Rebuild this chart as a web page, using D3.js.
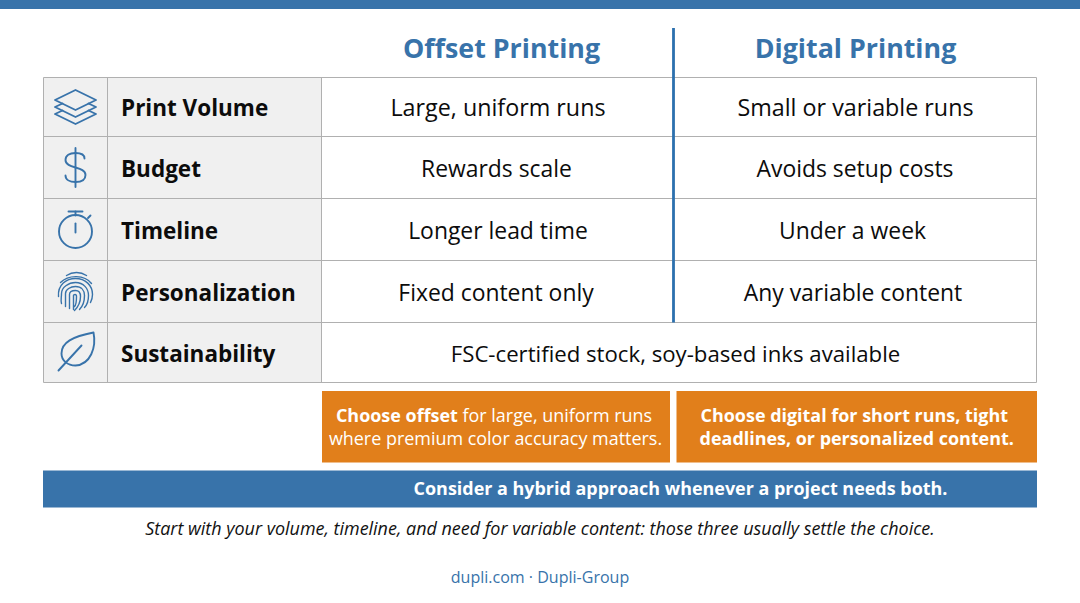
<!DOCTYPE html>
<html>
<head>
<meta charset="utf-8">
<script src="https://cdn.jsdelivr.net/npm/d3@7"></script>
<style>
  html, body { margin: 0; padding: 0; background: #fff; }
  svg { display: block; }
  text { font-family: "Open Sans", sans-serif; }
</style>
</head>
<body>
<svg id="chart" width="1080" height="603"></svg>
<script>
const columns = ["Offset Printing", "Digital Printing"];
const rows = ["Print Volume", "Budget", "Timeline", "Personalization", "Sustainability"];
const icons = ["layers", "dollar", "timer", "print", "leaf"];
const offsetValues = ["Large, uniform runs", "Rewards scale", "Longer lead time", "Fixed content only"];
const digitalValues = ["Small or variable runs", "Avoids setup costs", "Under a week", "Any variable content"];
const sharedValue = "FSC-certified stock, soy-based inks available";
const offsetCallout = [
  [["Choose offset", true], [" for large, uniform runs", false]],
  [["where premium color accuracy matters.", false]],
];
const digitalCallout = [
  [["Choose digital for short runs, tight", true]],
  [["deadlines, or personalized content.", true]],
];
const banner = "Consider a hybrid approach whenever a project needs both.";
const footnote = "Start with your volume, timeline, and need for variable content: those three usually settle the choice.";
const source = "dupli.com · Dupli-Group";

const BLUE = "#3873aa";
const ORANGE = "#e17f1b";
const GRID = "#b0b0b0";

const svg = d3.select("#chart");

// row edges in the picture are not quite even, so map index -> top edge
const rowY = d3.scaleOrdinal().domain(d3.range(rows.length + 1)).range([77.5, 136.5, 198.5, 260.5, 322.5, 382.5]);
const colX = { icon: 43.5, label: 107.5, body: 321.5, split: 673.5, right: 1036.5 };
// centre of each cell's text, read per row
const offsetMid = [498, 496.5, 498, 496];
const digitalMid = [855.5, 855, 852.5, 853];
const cellSize = [23.3, 22.9, 22.9, 22.9];

// top band
svg.append("rect").attr("width", 1080).attr("height", 9).attr("fill", BLUE);

// label column fill
svg.append("rect")
  .attr("x", colX.icon).attr("y", rowY(0))
  .attr("width", colX.body - colX.icon).attr("height", rowY(5) - rowY(0))
  .attr("fill", "#f0f0f0");

// grid
const gridLines = svg.append("g").attr("stroke", GRID).attr("stroke-width", 1);
gridLines.selectAll("line.h").data(d3.range(rows.length + 1)).join("line")
  .attr("class", "h")
  .attr("x1", colX.icon).attr("x2", colX.right)
  .attr("y1", (d) => rowY(d)).attr("y2", (d) => rowY(d));
gridLines.selectAll("line.v").data([colX.icon, colX.label, colX.body, colX.right]).join("line")
  .attr("class", "v")
  .attr("x1", (d) => d).attr("x2", (d) => d)
  .attr("y1", rowY(0)).attr("y2", rowY(5));

// column split
svg.append("line")
  .attr("x1", colX.split).attr("x2", colX.split)
  .attr("y1", 28).attr("y2", rowY(4))
  .attr("stroke", "#2c70ae").attr("stroke-width", 2.8);

// column titles
svg.selectAll("text.col").data(columns).join("text")
  .attr("class", "col")
  .attr("x", (d, i) => (i === 0 ? 501.5 : 855.5))
  .attr("y", 58)
  .attr("text-anchor", "middle")
  .attr("font-size", 26.8).attr("font-weight", 700)
  .attr("fill", BLUE)
  .text((d) => d);

function rowMid(i) {
  return (rowY(i) + rowY(i + 1)) / 2;
}

// row labels
svg.selectAll("text.row").data(rows).join("text")
  .attr("class", "row")
  .attr("x", 121)
  .attr("y", (d, i) => rowMid(i) + 9)
  .attr("font-size", 22.5).attr("font-weight", 700)
  .attr("fill", "#0c0c0c")
  .text((d) => d);

// cells
function cellText(values, mids) {
  svg.append("g").selectAll("text").data(values).join("text")
    .attr("x", (d, i) => mids[i])
    .attr("y", (d, i) => rowMid(i) + 9)
    .attr("text-anchor", "middle")
    .attr("font-size", (d, i) => cellSize[i]).attr("fill", "#0c0c0c")
    .text((d) => d);
}
cellText(offsetValues, offsetMid);
cellText(digitalValues, digitalMid);
svg.append("text")
  .attr("x", 675.5).attr("y", rowMid(4) + 9)
  .attr("text-anchor", "middle")
  .attr("font-size", 22.2).attr("fill", "#0c0c0c")
  .text(sharedValue);

// icons, each drawn around the middle of its cell
const iconPaths = {
  layers: [
    "M0,-17 L20.5,-7 L0,3 L-20.5,-7 Z",
    "M-13,-3.5 L-20.5,0 L0,10 L20.5,0 L13,-3.5",
    "M-13,3.5 L-20.5,7 L0,17 L20.5,7 L13,3.5",
  ],
  dollar: [
    "M0,-19.5 V19.5",
    "M9,-9 C9,-13 5,-14.5 0,-14.5 C-6,-14.5 -10,-12 -10,-7.5 C-10,-3 -5,-1.5 0,0 C5,1.5 10,3 10,7.5 C10,12 6,14.5 0,14.5 C-6,14.5 -10,12 -10,8",
  ],
  timer: [
    "M-7,-19 H7",
    "M0,-19 V-15",
    "M0,-7 V2",
    "M12.5,-12.5 L15,-15",
  ],
  print: [
    "M-9,-16 C-3,-20 5,-20 11,-16",
    "M-15,-9 C-7,-17 9,-17 16,-8",
    "M-17,5 C-18,-7 -9,-13 0,-13 C10,-13 17,-6 17,3 C17,7 16,9 15,11",
    "M-14,12 C-15,9 -14,6 -14,2 C-14,-4 -7,-9 0,-9 C8,-9 13,-3 13,4 C13,9 12,13 9,16",
    "M-10,15 C-10,10 -10,6 -10,2 C-10,-2 -5,-5 0,-5 C6,-5 9,-1 9,4 C9,10 7,15 4,18",
    "M-6,17 C-6,12 -6,7 -6,3 C-6,0 -3,-1 0,-1 C3,-1 5,1 5,5 C5,10 3,15 -1,19",
    "M-2,18 C-2,13 -2,8 -2,4 C-2,3 1,2 1,5 C1,10 0,14 -1,15",
  ],
  leaf: [
    "M18,-20 C21,-5 15,12 0,13 C-8,13 -14,8 -14,1 C-14,-10 -3,-16 18,-20 Z",
    "M-17,18 L6,-7",
  ],
};
const iconGroups = svg.selectAll("g.icon").data(icons).join("g")
  .attr("class", "icon")
  .attr("transform", (d, i) => `translate(75.5,${rowMid(i) + (d === "timer" ? 1 : 0)})`)
  .attr("fill", "none").attr("stroke", BLUE)
  .attr("stroke-width", (d) => (d === "print" ? 1.4 : 1.9))
  .attr("stroke-linecap", "round").attr("stroke-linejoin", "round");
iconGroups.selectAll("path").data((d) => iconPaths[d]).join("path").attr("d", (d) => d);
iconGroups.filter((d) => d === "timer").append("circle").attr("cy", 1).attr("r", 16.5);

// orange callouts
function callout(x, width, lines, shifts) {
  svg.append("rect")
    .attr("x", x).attr("y", 391).attr("width", width).attr("height", 71.5)
    .attr("fill", ORANGE);
  lines.forEach((runs, i) => {
    const t = svg.append("text")
      .attr("x", x + width / 2 + shifts[i])
      .attr("y", 421.5 + i * 23.5)
      .attr("text-anchor", "middle")
      .attr("font-size", 17.95).attr("fill", "#fff");
    t.selectAll("tspan").data(runs).join("tspan")
      .attr("font-weight", (d) => (d[1] ? 700 : 400))
      .text((d) => d[0]);
  });
}
callout(322, 348, offsetCallout, [-2, -0.5]);
callout(676.5, 360.5, digitalCallout, [-2.5, 0]);

// hybrid banner
svg.append("rect")
  .attr("x", 43).attr("y", 470.5).attr("width", 994).attr("height", 37)
  .attr("fill", BLUE);
svg.append("text")
  .attr("x", 680.5).attr("y", 495)
  .attr("text-anchor", "middle")
  .attr("font-size", 17.95).attr("font-weight", 700).attr("fill", "#fff")
  .text(banner);

svg.append("text")
  .attr("x", 540).attr("y", 535)
  .attr("text-anchor", "middle")
  .attr("font-size", 17.95).attr("font-style", "italic").attr("fill", "#111")
  .text(footnote);

svg.append("text")
  .attr("x", 540).attr("y", 583)
  .attr("text-anchor", "middle")
  .attr("font-size", 16.05).attr("fill", BLUE)
  .text(source);
</script>
</body>
</html>
